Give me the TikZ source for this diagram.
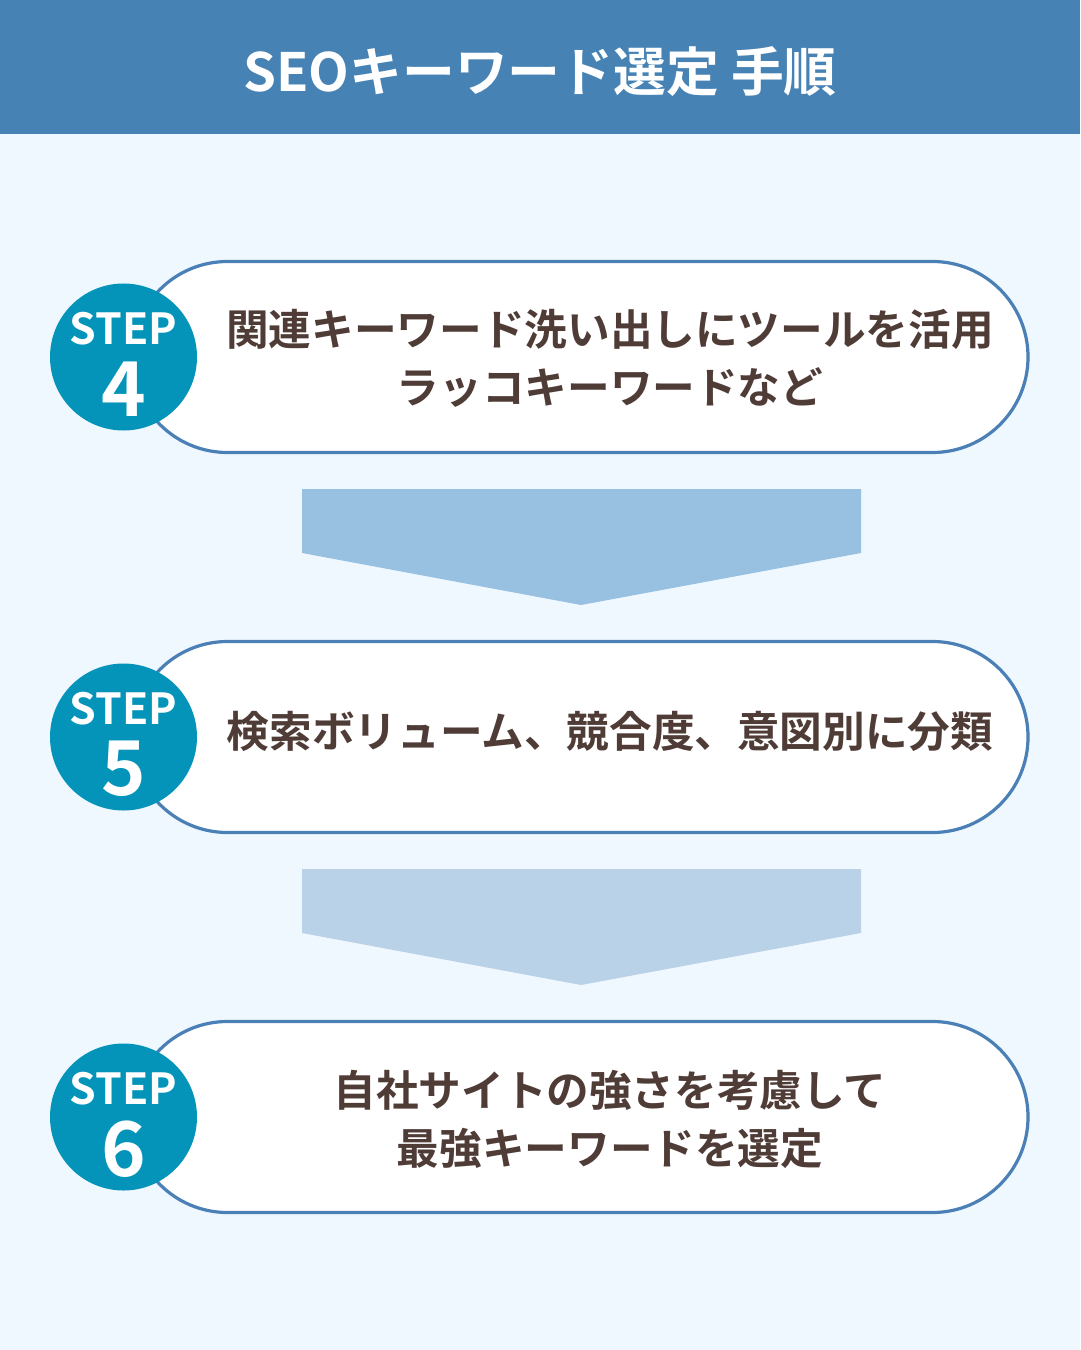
\documentclass[tikz,border=0pt]{standalone}
\usepackage{fontspec}
\usepackage{xcolor}
\setmainfont{Noto Sans CJK JP}[BoldFont={Noto Sans CJK JP Bold}]
\definecolor{headblue}{HTML}{4682B4}
\definecolor{pagebg}{HTML}{F0F8FF}
\definecolor{pillline}{HTML}{4A80B6}
\definecolor{stepblue}{HTML}{0494B9}
\definecolor{bodytext}{HTML}{4F3C36}
\definecolor{arrowA}{HTML}{98C0E1}
\definecolor{arrowB}{HTML}{BAD2E7}
\newcommand{\PillW}{896}
\newcommand{\PillH}{191}
\newcommand{\BodyFont}{\fontsize{42.8}{58}\selectfont\bfseries}

\tikzset{
  pill/.style={draw=pillline, line width=3.2bp, fill=white, rounded corners=95.5bp,
    minimum width=\PillW bp, minimum height=\PillH bp, inner sep=0pt},
  stepdot/.style={circle, fill=stepblue, minimum size=147bp, inner sep=0pt},
  steplabel/.style={text=white, font=\fontsize{43}{43}\selectfont\bfseries, inner sep=0pt},
  stepnum/.style={text=white, font=\fontsize{76}{76}\selectfont\bfseries, inner sep=0pt},
  stepbody/.style={text=bodytext, font=\BodyFont, align=center, inner sep=0pt},
}

\begin{document}
\begin{tikzpicture}[x=1bp, y=-1bp]
		\useasboundingbox (0,0) rectangle (1080,1350);
		\fill[pagebg] (0,0) rectangle (1080,1350);% Background
		\fill[headblue] (0,0) rectangle (1080,134);% Header band
		\node[text=white, font=\fontsize{53}{53}\selectfont\bfseries, inner sep=0pt] (title) at (540,72) {SEOキーワード選定 手順};

		\node[pill] (pill4) at (580,357) {};% Step 4
		\node[stepdot] (dot4) at (123.5,357) {};
		\node[steplabel] (lab4) at (123.5,329) {STEP};
		\node[stepnum] (num4) at (123.5,389) {4};
		\node[stepbody] (txt4) at (610,358) {関連キーワード洗い出しにツールを活用\\ラッコキーワードなど};

		\coordinate (a1) at (302,489);
		\coordinate (b1) at (861,489);
		\coordinate (c1) at (861,553);
		\coordinate (d1) at (581,605);
		\coordinate (e1) at (302,553);
		\fill[arrowA] (a1) -- (b1) -- (c1) -- (d1) -- (e1) -- cycle;% First arrow

		\node[pill] (pill5) at (580,737) {};% Step 5
		\node[stepdot] (dot5) at (123.5,737) {};
		\node[steplabel] (lab5) at (123.5,709) {STEP};
		\node[stepnum] (num5) at (123.5,769) {5};
		\node[stepbody] (txt5) at (610,731) {検索ボリューム、競合度、意図別に分類};

		\coordinate (a2) at (302,869);
		\coordinate (b2) at (861,869);
		\coordinate (c2) at (861,933);
		\coordinate (d2) at (581,985);
		\coordinate (e2) at (302,933);
		\fill[arrowB] (a2) -- (b2) -- (c2) -- (d2) -- (e2) -- cycle;% Second arrow

		\node[pill] (pill6) at (580,1117) {};% Step 6
		\node[stepdot] (dot6) at (123.5,1117) {};
		\node[steplabel] (lab6) at (123.5,1089) {STEP};
		\node[stepnum] (num6) at (123.5,1149) {6};
		\node[stepbody] (txt6) at (610,1119) {自社サイトの強さを考慮して\\最強キーワードを選定};
	\end{tikzpicture}
\end{document}
